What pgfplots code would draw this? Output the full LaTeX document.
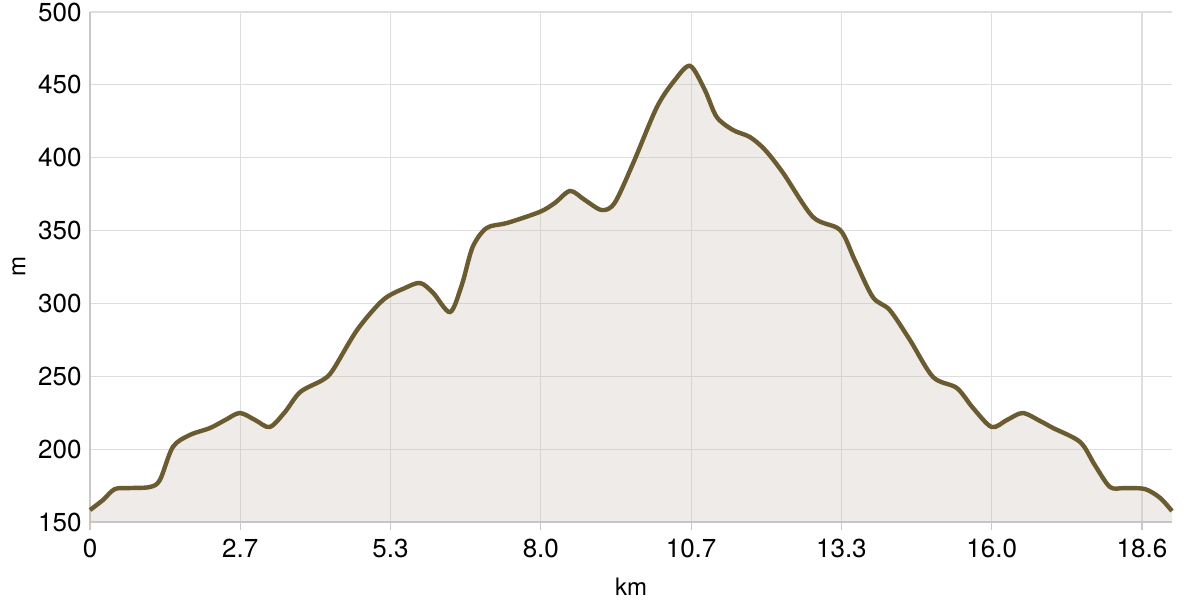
\documentclass[border=0pt]{standalone}
\usepackage{pgfplots}
\pgfplotsset{compat=1.18}
\usepackage{fontspec}
\setmainfont{TeX Gyre Heros}
\definecolor{profile}{RGB}{107,91,48}
\definecolor{areafill}{RGB}{198,188,178}
\definecolor{gridc}{RGB}{222,222,222}
\definecolor{axisc}{RGB}{200,200,200}

\begin{document}
\begin{tikzpicture}
  \begin{axis}[
    name=ax,
    scale only axis,
    width=541pt, height=255pt,
    xmin=0, xmax=19.2, ymin=150, ymax=500,
    axis x line=bottom, axis y line=left,
    axis line style={axisc, line width=0.6pt, -},
    xtick={0,2.6667,5.3333,8,10.6667,13.3333,16,18.6667},
    xticklabels={0,2.7,5.3,8.0,10.7,13.3,16.0,18.6},
    ytick={150,200,...,500},
    xmajorgrids, ymajorgrids,
    grid style={gridc, line width=0.6pt},
    x tick style={axisc, line width=0.6pt},
    major tick length=4pt,
    xtick align=outside,
    ytick style={draw=none},
    tick label style={font=\fontsize{13}{15}\selectfont, black},
    /pgf/number format/assume math mode=true,
    xticklabel style={inner sep=0pt, yshift=-4.5pt},
    yticklabel style={inner sep=0pt, xshift=-2pt},
    xlabel={km}, ylabel={m},
    label style={font=\fontsize{12}{14}\selectfont, inner sep=0pt},
    xlabel style={at={(axis description cs:0.5,0)}, anchor=center, yshift=-32.5pt},
    ylabel style={at={(axis description cs:0,0.5)}, anchor=center, yshift=35.5pt},
    clip=false,
  ]
    % elevation profile, km vs m
    \pgfplotstableread{
km    m
0     158.2
0.23  165.1
0.44  172.6
0.71  173.3
1.06  174.0
1.24  178.8
1.47  201.5
1.77  209.7
2.13  214.5
2.40  220.0
2.66  224.8
2.93  220.0
3.19  215.2
3.46  225.5
3.73  239.2
4.13  247.5
4.31  254.3
4.74  281.8
5.20  302.4
5.59  310.6
5.86  314.0
6.09  307.2
6.39  294.1
6.60  313.0
6.79  338.7
7.04  351.8
7.40  355.2
7.98  362.8
8.25  369.0
8.52  377.2
8.78  371.0
9.08  364.1
9.31  369.0
9.64  396.4
10.06 434.8
10.38 453.4
10.65 463.0
10.91 446.5
11.12 428.0
11.41 419.0
11.71 414.2
11.98 405.3
12.30 389.5
12.83 359.3
13.31 350.4
13.57 329.8
13.89 304.4
14.19 295.5
14.55 274.9
14.96 249.5
15.38 242.0
15.67 228.2
16.00 215.2
16.27 220.0
16.55 224.8
16.86 219.3
17.09 214.5
17.57 204.9
17.83 189.1
18.10 174.0
18.36 173.3
18.72 172.6
18.99 166.5
19.20 157.5
}\profiletable
    \addplot[draw=none, fill=areafill, fill opacity=0.3, smooth, tension=0.5]
      table[x=km, y=m] {\profiletable} \closedcycle;
    \addplot[profile, line width=2.2pt, smooth, tension=0.5]
      table[x=km, y=m] {\profiletable};
  \end{axis}
  \path (ax.south west) ++(-45pt,-39pt) coordinate (bl);
  \path (ax.north east) ++(14pt,6pt) coordinate (tr);
  \path (bl) rectangle (tr);
\end{tikzpicture}
\end{document}
